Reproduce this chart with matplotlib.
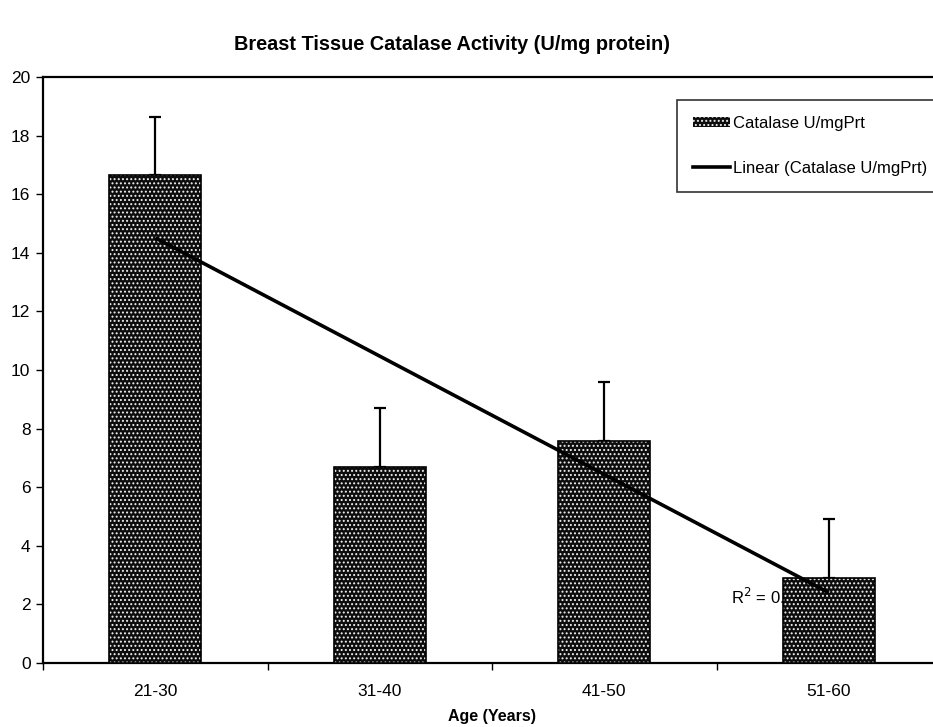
import matplotlib
matplotlib.use("Agg")
import matplotlib.pyplot as plt
import numpy as np
from matplotlib.patches import Patch
from matplotlib.lines import Line2D

plt.rcParams['font.family'] = ['Liberation Sans', 'DejaVu Sans']
plt.rcParams['hatch.linewidth'] = 0.9

categories = ["21-30", "31-40", "41-50", "51-60"]
catalase = [16.65, 6.69, 7.58, 2.90]
errors = [2.0, 2.0, 2.0, 2.0]
yticks = [0, 2, 4, 6, 8, 10, 12, 14, 16, 18, 20]

W, H = 933, 727
fig = plt.figure(figsize=(W / 100, H / 100), dpi=100)
ax = fig.add_axes([43 / W, 1 - 663 / H, (941 - 43) / W, (663 - 77) / H])

x = np.arange(len(categories))
HATCH = '....'
# dotted dark fill
ax.bar(x, catalase, width=0.41, color='#0d0d0d', edgecolor='#f0f0f0', hatch=HATCH,
       linewidth=0, zorder=3)
ax.bar(x, catalase, width=0.41, facecolor='none', edgecolor='black', linewidth=1.2, zorder=4)
ax.errorbar(x, catalase, yerr=[np.zeros(len(errors)), errors], fmt='none', ecolor='black',
            elinewidth=1.6, capsize=4, capthick=1.6, zorder=2)

# linear trend line
slope, intercept = np.polyfit(x, catalase, 1)
fit = slope * x + intercept
ss_res = np.sum((np.array(catalase) - fit) ** 2)
ss_tot = np.sum((np.array(catalase) - np.mean(catalase)) ** 2)
r2 = 1 - ss_res / ss_tot
ax.plot([x[0], x[-1]], [fit[0], fit[-1]], color='black', linewidth=2.6, zorder=5,
        solid_capstyle='butt')
ax.text(2.565, 2.25, "R$^2$ = %.4f" % r2, fontsize=12, va='center', ha='left', zorder=1)

ax.set_xlim(-0.5, 3.5)
ax.set_ylim(0, 20)
ax.set_yticks(yticks)
ax.set_yticklabels([str(v) for v in yticks], fontsize=12.5)
ax.set_xticks(x)
ax.set_xticklabels(categories, fontsize=12.5)
ax.set_xticks(np.arange(-0.5, 4.0, 1.0), minor=True)
ax.tick_params(axis='x', which='major', length=0, pad=15)
ax.tick_params(axis='x', which='minor', length=5, width=1, direction='out')
ax.tick_params(axis='y', length=5, width=1, direction='out', pad=4)
for s in ['left', 'bottom', 'top']:
    ax.spines[s].set_linewidth(1.6)
    ax.spines[s].set_color('black')
ax.spines['right'].set_visible(False)

fig.text(492 / W, 1 - 716 / H, "Age (Years)", fontsize=11.5, fontweight='bold',
         ha='center', va='center')
fig.text(452 / W, 1 - 45 / H, "Breast Tissue Catalase Activity (U/mg protein)",
         fontsize=14.3, fontweight='bold', ha='center', va='center')

handles = [Patch(facecolor='#0d0d0d', edgecolor='#f0f0f0', hatch=HATCH, linewidth=0),
           Line2D([0], [0], color='black', linewidth=2.6)]
leg = ax.legend(handles, ["Catalase U/mgPrt", "Linear (Catalase U/mgPrt)"],
                loc='upper left', bbox_to_anchor=((677 - 43) / 898, (663 - 100) / 586),
                fontsize=12, frameon=True, fancybox=False, labelspacing=1.8,
                handlelength=2.2, handleheight=0.5, handletextpad=0.2, borderpad=0.95,
                borderaxespad=0)
leg.get_frame().set_edgecolor('black')
leg.get_frame().set_linewidth(1.2)
leg.set_zorder(10)

fig.savefig("out.png", dpi=100)
